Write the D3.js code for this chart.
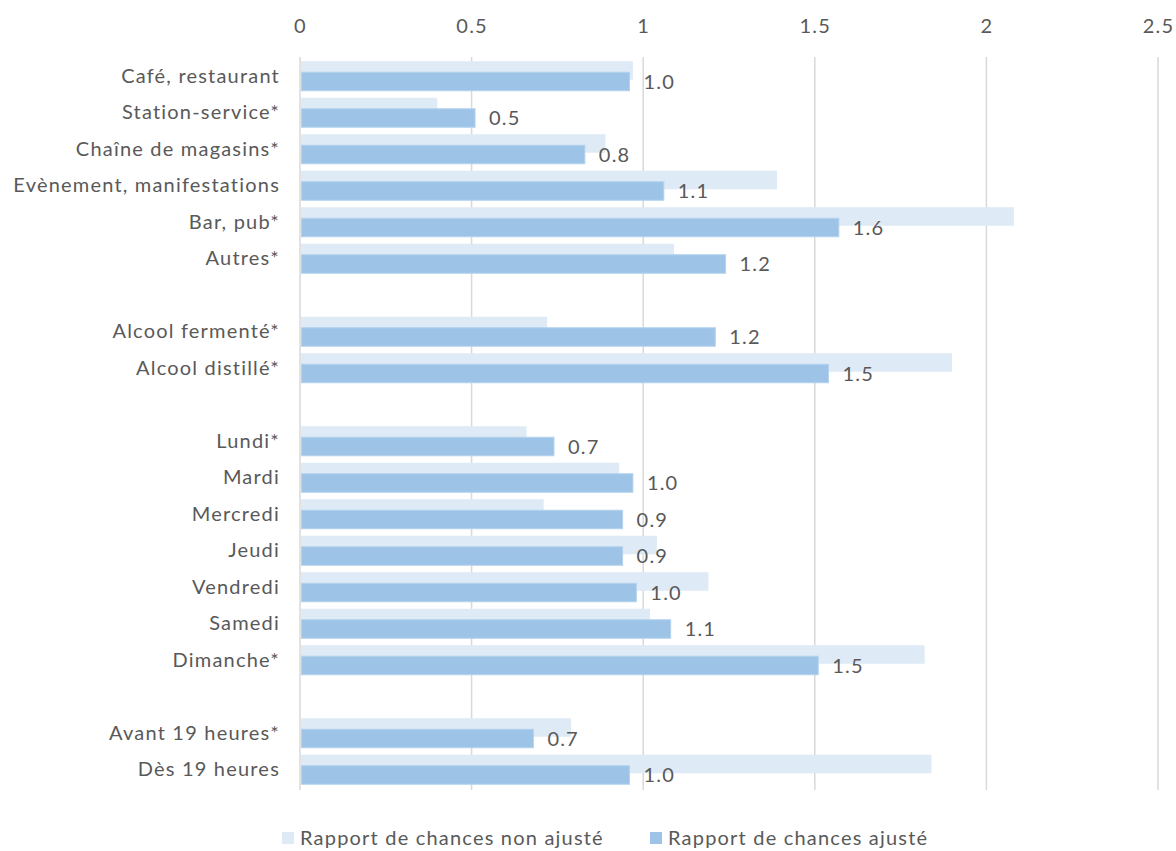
<!DOCTYPE html>
<html>
<head>
<meta charset="utf-8">
<script src="https://cdn.jsdelivr.net/npm/d3@7"></script>
<style>
  html, body { margin: 0; padding: 0; background: #fff; }
  svg { display: block; }
  text { font-family: Lato, "Open Sans", sans-serif; fill: #595959; letter-spacing: 1.2px; }
</style>
</head>
<body>
<svg id="chart" width="1176" height="851"></svg>
<script>
// Categories in display order; empty strings are spacer rows between groups
const categories = [
  "Café, restaurant", "Station-service*", "Chaîne de magasins*",
  "Evènement, manifestations", "Bar, pub*", "Autres*", "",
  "Alcool fermenté*", "Alcool distillé*", "",
  "Lundi*", "Mardi", "Mercredi", "Jeudi", "Vendredi", "Samedi", "Dimanche*", "",
  "Avant 19 heures*", "Dès 19 heures"
];
// Unadjusted odds ratios (null for spacer rows)
const unadjusted = [
  0.97, 0.40, 0.89, 1.39, 2.08, 1.09, null,
  0.72, 1.90, null,
  0.66, 0.93, 0.71, 1.04, 1.19, 1.02, 1.82, null,
  0.79, 1.84
];
// Adjusted odds ratios
const adjusted = [
  0.96, 0.51, 0.83, 1.06, 1.57, 1.24, null,
  1.21, 1.54, null,
  0.74, 0.97, 0.94, 0.94, 0.98, 1.08, 1.51, null,
  0.68, 0.96
];
const xTicks = [0, 0.5, 1, 1.5, 2, 2.5];
const seriesNames = ["Rapport de chances non ajusté", "Rapport de chances ajusté"];

const svg = d3.select("#chart");
const x = d3.scaleLinear().domain([0, 2.5]).range([300, 1158]);
const y = d3.scaleBand().domain(d3.range(categories.length)).range([58, 788]);
const slot = y.bandwidth();
const barH = 18.5;
const fs = 20;

// Vertical gridlines
svg.append("g").selectAll("line").data(xTicks).join("line")
  .attr("x1", d => x(d)).attr("x2", d => x(d))
  .attr("y1", 57).attr("y2", 790)
  .attr("stroke", "#d9d9d9").attr("stroke-width", 1.5);

// Top axis labels
const axis = d3.axisTop(x).tickValues(xTicks).tickSize(0).tickFormat(d3.format("~g"));
const ag = svg.append("g").attr("transform", "translate(0,36)").call(axis);
ag.select(".domain").remove();
ag.selectAll("text").attr("font-size", fs).attr("fill", "#595959")
  .style("font-family", "Lato, 'Open Sans', sans-serif");

const rows = categories.map((c, i) => ({ c, i, u: unadjusted[i], a: adjusted[i] }));
const dataRows = rows.filter(r => r.u !== null);

// Unadjusted bars (behind)
svg.append("g").selectAll("rect").data(dataRows).join("rect")
  .attr("x", x(0) + 1)
  .attr("y", d => y(d.i) + slot / 2 - 15)
  .attr("width", d => x(d.u) - x(0) - 1)
  .attr("height", barH)
  .attr("fill", "#deeaf6");

// Adjusted bars (front)
svg.append("g").selectAll("rect").data(dataRows).join("rect")
  .attr("x", x(0) + 1.5)
  .attr("y", d => y(d.i) + slot / 2 - 4)
  .attr("width", d => x(d.a) - x(0) - 1.5)
  .attr("height", barH)
  .attr("fill", "#9dc3e6")
  .attr("stroke", "#b4d2ee").attr("stroke-width", 1);

// Value labels for adjusted ratios
svg.append("g").selectAll("text").data(dataRows).join("text")
  .attr("x", d => x(d.a) + 14)
  .attr("y", d => y(d.i) + slot / 2 - 4 + barH / 2)
  .attr("dy", "0.36em")
  .attr("font-size", fs)
  .text(d => d3.format(".1f")(d.a));

// Category labels
svg.append("g").selectAll("text").data(dataRows).join("text")
  .attr("x", 280)
  .attr("y", d => y(d.i) + slot / 2)
  .attr("dy", "0.33em")
  .attr("text-anchor", "end")
  .attr("font-size", fs)
  .text(d => d.c);

// Legend
const legend = svg.append("g");
const legendColors = ["#deeaf6", "#9dc3e6"];
const legendX = [282, 650];
seriesNames.forEach((name, k) => {
  legend.append("rect").attr("x", legendX[k]).attr("y", 832)
    .attr("width", 12).attr("height", 12).attr("fill", legendColors[k]);
  legend.append("text").attr("x", legendX[k] + 18).attr("y", 838)
    .attr("dy", "0.35em").attr("font-size", fs).text(name);
});
</script>
</body>
</html>
